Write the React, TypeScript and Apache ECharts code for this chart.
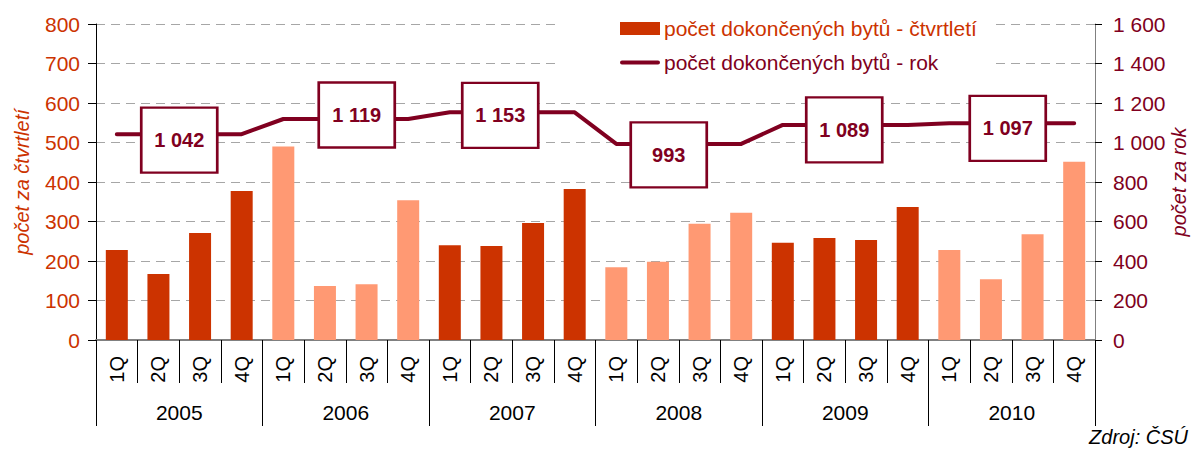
import React, { useEffect, useRef } from "react";
import * as echarts from "echarts";

const quarters = [
  "1Q","2Q","3Q","4Q","1Q","2Q","3Q","4Q","1Q","2Q","3Q","4Q",
  "1Q","2Q","3Q","4Q","1Q","2Q","3Q","4Q","1Q","2Q","3Q","4Q",
];
const years = ["2005", "2006", "2007", "2008", "2009", "2010"];
const quarterValues = [
  228, 167, 271, 377,
  490, 137, 141, 354,
  240, 238, 296, 382,
  184, 198, 294, 322,
  246, 258, 253, 337,
  228, 154, 268, 451,
];
const annualValues = [1042, 1119, 1153, 993, 1089, 1097];
// line value per quarter (annual total shown for each quarter of the year)
const annualPerQuarter = [
  1042, 1042, 1042, 1042,
  1119, 1119, 1119, 1119,
  1153, 1153, 1153, 1153,
  993, 993, 993, 993,
  1089, 1089, 1089, 1089,
  1097, 1097, 1097, 1097,
];
const seriesNames = [
  "počet dokončených bytů - čtvrtletí",
  "počet dokončených bytů - rok",
];
const leftAxisName = "počet za čtvrtletí";
const rightAxisName = "počet za rok";
const sourceText = "Zdroj: ČSÚ";

// label box placement offsets (px) — style only
const boxOffsetX = [0, 11, -12, -10, -1, -4];
const boxOffsetY = [6, -4, 3, 11, 5, 5];

const DARK = "#CC3300";
const LIGHT = "#FF9973";
const MAROON = "#800020";
const FONT = "'Liberation Sans', Arial, sans-serif";

const LINE_ICON =
  "path://M0,0 L0.01,0 M2,4.5 L38,4.5 A2,2 0 0 1 38,8.5 L2,8.5 A2,2 0 0 1 2,4.5 Z M39.99,13 L40,13";

const fmt = (n: number) => String(n).replace(/\B(?=(\d{3})+(?!\d))/g, " ");

export default function App() {
  const ref = useRef<HTMLDivElement>(null);
  useEffect(() => {
    if (!ref.current) return;
    const chart = echarts.init(ref.current, undefined, { renderer: "svg" });
    const option: any = {
      animation: false,
      textStyle: { fontFamily: FONT },
      grid: {
        left: 96,
        right: 98,
        top: 24,
        bottom: 110,
        containLabel: false,
        outerBoundsMode: "none",
      },
      legend: {
        orient: "vertical",
        left: 558,
        top: 10,
        padding: [8, 14, 8, 62],
        backgroundColor: "#FFFFFF",
        itemGap: 13,
        itemWidth: 40,
        itemHeight: 13,
        selectedMode: false,
        textStyle: { fontSize: 21, fontFamily: FONT, padding: [0, 0, 0, -1] },
        data: [
          { name: seriesNames[0], icon: "rect", textStyle: { color: DARK } },
          {
            name: seriesNames[1],
            icon: LINE_ICON,
            itemStyle: { color: MAROON },
            textStyle: { color: MAROON },
          },
        ],
      },
      xAxis: [
        {
          type: "category",
          data: quarters,
          position: "bottom",
          axisLine: { show: true, lineStyle: { color: "#808080", width: 2 } },
          axisTick: { show: true, length: 43, lineStyle: { color: "#000" }, interval: 0 },
          axisLabel: {
            rotate: 90,
            interval: 0,
            margin: 16,
            fontSize: 20,
            color: "#000",
            fontFamily: FONT,
          },
        },
        {
          type: "category",
          data: years,
          position: "bottom",
          axisLine: { show: false },
          axisTick: { show: true, length: 86, lineStyle: { color: "#000" }, interval: 0 },
          axisLabel: { margin: 62, fontSize: 21, color: "#000", fontFamily: FONT },
          splitLine: { show: false },
        },
      ],
      yAxis: [
        {
          type: "value",
          min: 0,
          max: 800,
          interval: 100,
          position: "left",
          name: leftAxisName,
          nameLocation: "middle",
          nameGap: 64,
          nameMoveOverlap: false,
          nameTextStyle: { color: DARK, fontSize: 20, fontStyle: "italic", fontFamily: FONT },
          axisLine: { show: true, lineStyle: { color: "#000" } },
          axisTick: { show: true, length: 8, lineStyle: { color: "#000" } },
          axisLabel: { color: DARK, fontSize: 21, margin: 16, fontFamily: FONT },
          splitLine: {
            show: true,
            lineStyle: { color: "#A6A6A6", type: [9, 6], width: 1 },
          },
        },
        {
          type: "value",
          min: 0,
          max: 1600,
          interval: 200,
          position: "right",
          name: rightAxisName,
          nameLocation: "middle",
          nameGap: 74,
          nameMoveOverlap: false,
          nameTextStyle: { color: MAROON, fontSize: 20, fontStyle: "italic", fontFamily: FONT },
          axisLine: { show: true, lineStyle: { color: "#808080" } },
          axisTick: { show: true, length: 7, lineStyle: { color: "#000" } },
          axisLabel: {
            color: MAROON,
            fontSize: 21,
            margin: 18,
            fontFamily: FONT,
            formatter: (v: number) => fmt(v),
          },
          splitLine: { show: false },
        },
      ],
      series: [
        {
          name: seriesNames[0],
          type: "bar",
          xAxisIndex: 0,
          yAxisIndex: 0,
          barWidth: 22,
          itemStyle: { color: DARK },
          data: quarterValues.map((v, i) => ({
            value: v,
            itemStyle: { color: Math.floor(i / 4) % 2 === 0 ? DARK : LIGHT },
          })),
          z: 2,
        },
        {
          name: seriesNames[1],
          type: "line",
          xAxisIndex: 0,
          yAxisIndex: 1,
          data: annualPerQuarter,
          symbol: "none",
          lineStyle: { color: MAROON, width: 4, cap: "round", join: "round" },
          itemStyle: { color: MAROON },
          z: 3,
        },
        {
          name: "boxes",
          type: "scatter",
          xAxisIndex: 1,
          yAxisIndex: 1,
          symbol: "rect",
          symbolSize: [76, 65],
          itemStyle: { color: "#FFFFFF", borderColor: MAROON, borderWidth: 2.5, opacity: 1 },
          label: {
            show: true,
            position: "inside",
            color: MAROON,
            fontSize: 20,
            fontWeight: "bold",
            fontFamily: FONT,
            formatter: (p: any) => fmt(p.value),
          },
          emphasis: { disabled: true },
          data: annualValues.map((v, i) => ({
            value: v,
            symbolOffset: [boxOffsetX[i], boxOffsetY[i]],
          })),
          z: 5,
        },
      ],
      graphic: [
        {
          type: "text",
          right: 5,
          top: 427,
          style: {
            text: sourceText,
            fill: "#000",
            font: `italic 20px ${FONT}`,
          },
        },
      ],
    };
    chart.setOption(option);
    return () => chart.dispose();
  }, []);
  return (
    <div
      ref={ref}
      style={{ position: "absolute", left: 0, top: 0, width: 1193, height: 450 }}
    />
  );
}
